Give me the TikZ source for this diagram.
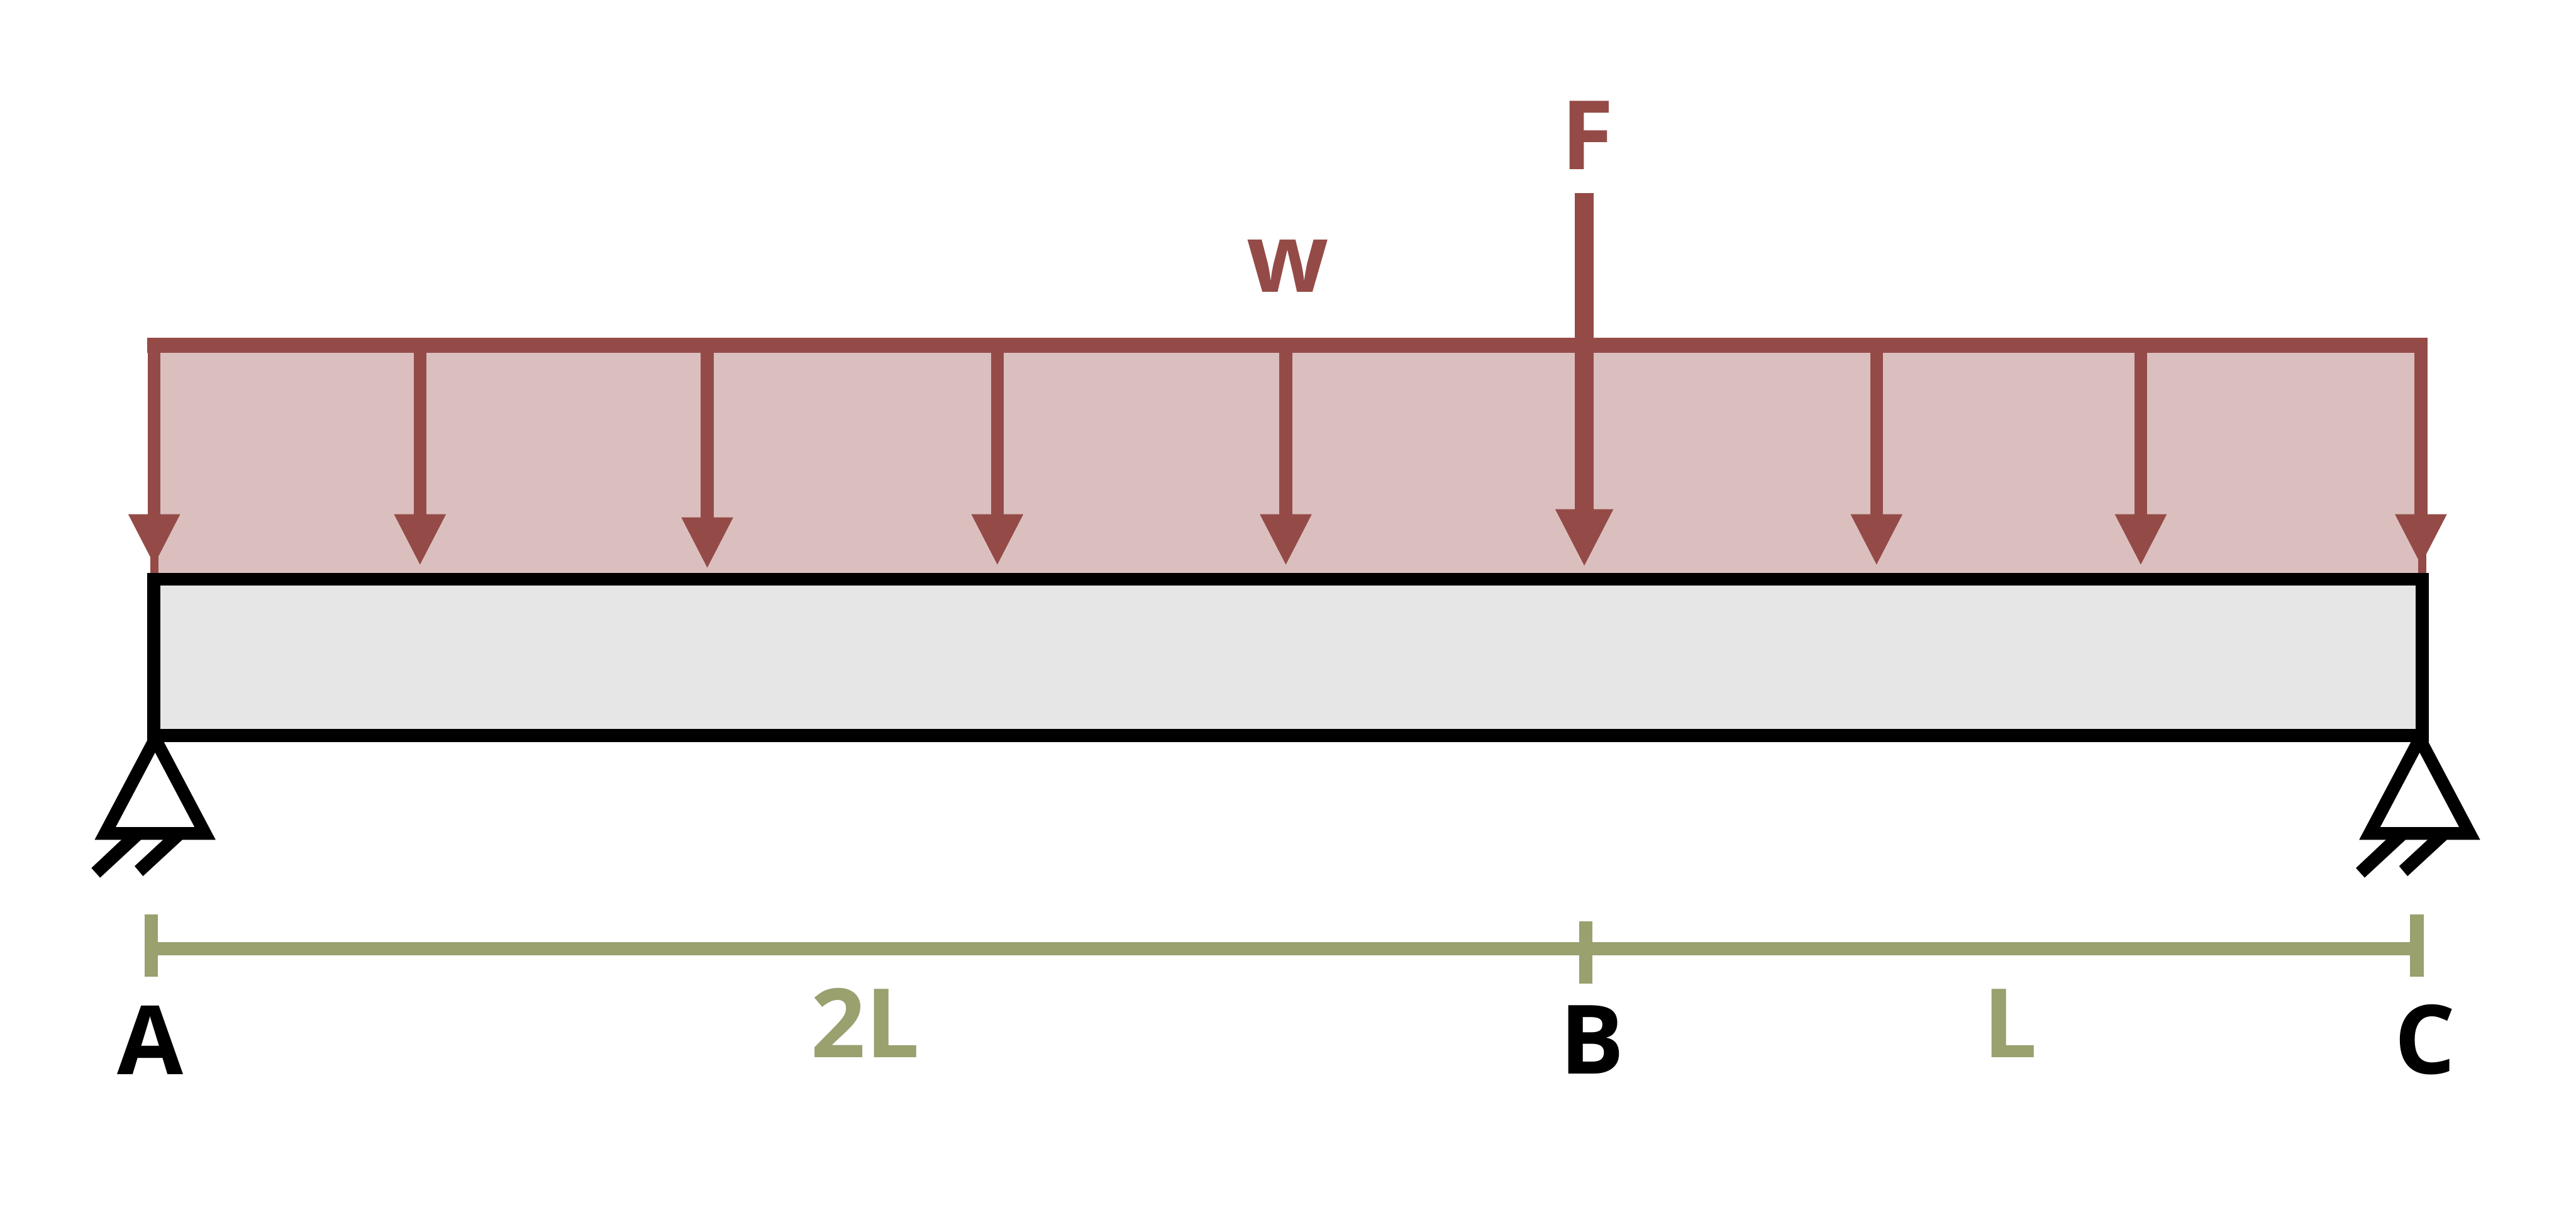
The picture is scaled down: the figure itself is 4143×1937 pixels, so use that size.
\documentclass[tikz,border=0pt]{standalone}
\usepackage{fontspec}
\setmainfont{Open Sans}
\usetikzlibrary{arrows.meta}
\definecolor{loadc}{HTML}{944B47}
\definecolor{loadfill}{HTML}{DBBFBF}
\definecolor{beamfill}{HTML}{E6E6E6}
\definecolor{dimc}{HTML}{9AA06E}
\tikzset{
  x=0.5pt,y=-0.5pt,
  label text/.style={font=\fontsize{77}{80}\selectfont\bfseries,anchor=base,inner sep=0pt,outer sep=0pt},
  loadarrow/.style={draw=loadc,line width=10.3pt,-{Triangle[width=38.5pt 0 0,length=41.5pt 0 0]}},
  forcearrow/.style={draw=loadc,line width=15.5pt,-{Triangle[width=43pt 0 0,length=46.5pt 0 0]}},
  stub/.style={draw=loadc,line width=6.5pt},
  loadline/.style={draw=loadc,line width=12pt},
  beamrect/.style={draw=black,fill=beamfill,line width=10.4pt,miter limit=10},
  pin/.style={draw=black,line width=10.2pt,line join=miter},
  dimline/.style={draw=dimc,line width=10.5pt},
  dimtick/.style={draw=dimc,line width=10.7pt},
}
\begin{document}
\begin{tikzpicture}
\useasboundingbox (0,0) rectangle (4143,1937);
\fill[white] (0,0) rectangle (4143,1937);
% load area
\fill[loadfill] (248,555) rectangle (3893,925);
% end stubs
\draw[stub] (248.5,880) -- (248.5,925);
\draw[stub] (3896,880) -- (3896,925);
% distributed load arrows
\foreach \n/\x/\t in {a/248/910,b/675.5/910,c/1137.5/915,d/1604/910,e/2068/910,g/3018/910,h/3443/910,i/3893.5/910}{
  \coordinate (top\n) at (\x,555);
  \coordinate (tip\n) at (\x,\t);
  \draw[loadarrow] (top\n) -- (tip\n);
}
% top line of the load
\coordinate (loadL) at (237,555);
\coordinate (loadR) at (3904,555);
\draw[loadline] (loadL) -- (loadR);
% point force
\coordinate (forceTop) at (2548,311);
\coordinate (forceTip) at (2548,912);
\draw[forcearrow] (forceTop) -- (forceTip);
% supports
\foreach \cx in {249.5,3891.5}{
  \begin{scope}[shift={(\cx,0)}]
    \fill[black] (-52.5,1349) -- (-21,1349) -- (-88.5,1411.5) -- (-102.5,1396) -- cycle;
    \fill[black] (14.5,1349) -- (45.5,1349) -- (-19.5,1409) -- (-33,1393) -- cycle;
    \draw[pin] (0,1188.5) -- (-80.4,1340.5) -- (80.4,1340.5) -- cycle;
  \end{scope}
}
% beam
\draw[beamrect] (247.5,931.5) rectangle (3895.5,1183);
% dimension line
\coordinate (dimA) at (243.5,1525.5);
\coordinate (dimB) at (2550,1525.5);
\coordinate (dimC) at (3887,1525.5);
\draw[dimline] (dimA) -- (dimC);
\draw[dimtick] (243.5,1471) -- (243.5,1571);
\draw[dimtick] (2550,1482) -- (2550,1582);
\draw[dimtick] (3887,1471) -- (3887,1571);
% labels
\node[label text,text=loadc] (lF) at (2553.5,272.5) {F};
\node[label text,text=loadc] (lw) at (2071.5,470) {w};
\node[label text,text=black] (lA) at (241.5,1728) {A};
\node[label text,text=black] (lB) at (2560.5,1727) {B};
\node[label text,text=black] (lC) at (3900,1727) {C};
\node[label text,text=dimc] (l2L) at (1392,1701) {2L};
\node[label text,text=dimc] (lL) at (3233,1701) {L};
\end{tikzpicture}
\end{document}
